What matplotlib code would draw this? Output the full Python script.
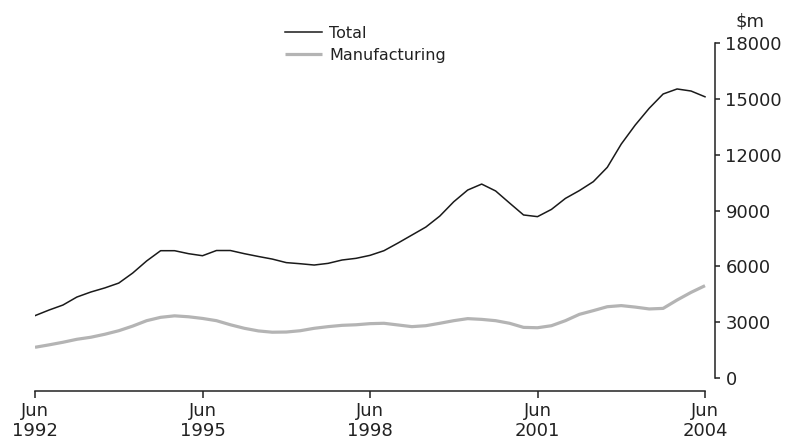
import matplotlib
matplotlib.use("Agg")
import matplotlib.pyplot as plt
import numpy as np

# Quarterly, Jun 1992 .. Jun 2004 ($m)
total = [3350, 3650, 3920, 4350, 4620, 4840, 5100, 5640, 6290, 6840,
         6840, 6680, 6570, 6850, 6850, 6680, 6530, 6390, 6200, 6140,
         6070, 6160, 6340, 6430, 6590, 6840, 7250, 7680, 8110, 8700,
         9470, 10100, 10420, 10050, 9400, 8760, 8670, 9060, 9650, 10070,
         10550, 11320, 12570, 13590, 14490, 15260, 15530, 15420, 15110]
manufacturing = [1650, 1780, 1920, 2080, 2190, 2350, 2540, 2790, 3080, 3260,
                 3340, 3290, 3200, 3080, 2860, 2670, 2530, 2460, 2470, 2540,
                 2670, 2760, 2830, 2860, 2920, 2940, 2850, 2760, 2810, 2940,
                 3080, 3190, 3150, 3080, 2940, 2720, 2700, 2810, 3080, 3420,
                 3620, 3830, 3890, 3810, 3710, 3740, 4190, 4600, 4960]
tick_labels = ["Jun\n1992", "Jun\n1995", "Jun\n1998", "Jun\n2001", "Jun\n2004"]
tick_pos = [0, 12, 24, 36, 48]
y_ticks = [0, 3000, 6000, 9000, 12000, 15000, 18000]

plt.rcParams['font.family'] = ['DejaVu Sans']
W, H = 789, 445
fig = plt.figure(figsize=(W / 100, H / 100), dpi=100)
ax = fig.add_axes([35 / W, (H - 391) / H, 680 / W, 348 / H])

x = np.arange(len(total))
ax.plot(x, manufacturing, color='#b4b4b4', lw=2.3, label='Manufacturing', solid_capstyle='butt')
ax.plot(x, total, color='#1a1a1a', lw=1.1, label='Total')

ymin = -13 / 335 * 18000
ax.set_ylim(ymin, 18000)
ax.set_xlim(0, 48 + 10 / (670 / 48))

for s in ['left', 'top']:
    ax.spines[s].set_visible(False)
ax.spines['right'].set_bounds(0, 18000)
ax.spines['bottom'].set_bounds(0, 48)
for s in ['right', 'bottom']:
    ax.spines[s].set_linewidth(1.1)
    ax.spines[s].set_color('#222222')

ax.yaxis.tick_right()
ax.set_yticks(y_ticks)
ax.set_yticklabels([str(v) for v in y_ticks])
ax.set_xticks(tick_pos)
ax.set_xticklabels(tick_labels, linespacing=1.1)
ax.tick_params(axis='y', direction='out', length=3.5, width=1.1, pad=4,
               labelsize=13, colors='#222222')
ax.tick_params(axis='x', direction='out', length=5, width=1.1, pad=3,
               labelsize=13, colors='#222222')

ax.text(1.03, 1.035, '$m', transform=ax.transAxes, fontsize=13,
        color='#222222', ha='left', va='bottom')

h, l = ax.get_legend_handles_labels()
leg = ax.legend(h[::-1], l[::-1], loc='upper left',
                bbox_to_anchor=(285 / W, (H - 26) / H),
                bbox_transform=fig.transFigure, frameon=False,
                fontsize=11.5, handlelength=2.3, handletextpad=0.45,
                borderpad=0, borderaxespad=0, labelspacing=0.42)
for t in leg.get_texts():
    t.set_color('#222222')

fig.savefig('out.png', dpi=100)
